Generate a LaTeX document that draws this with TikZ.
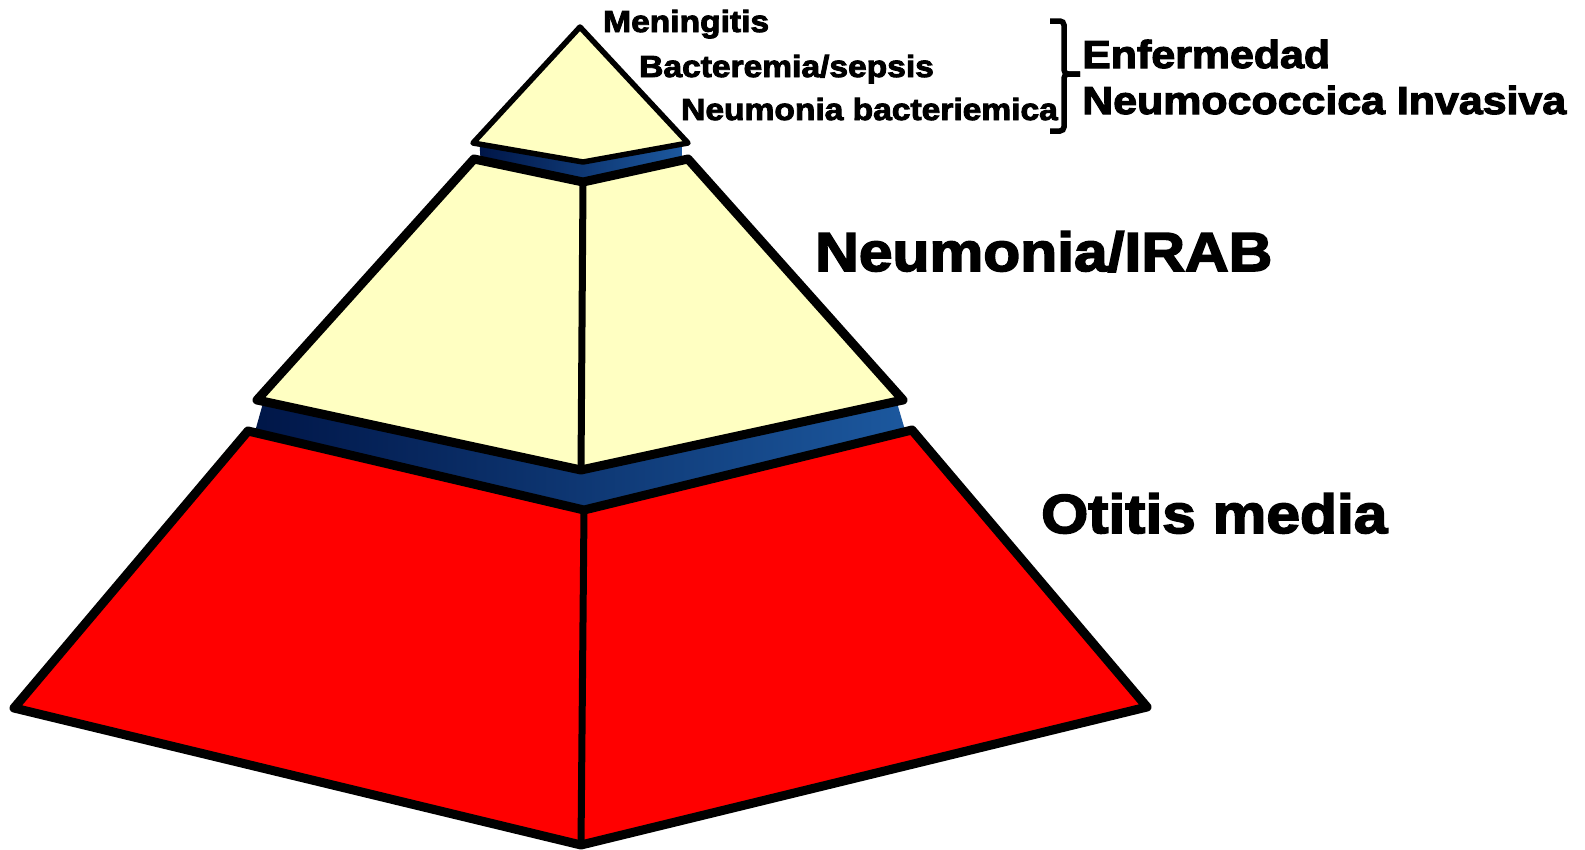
\documentclass[tikz,border=0pt]{standalone}
\usepackage{fontspec}
\usetikzlibrary{calc}
\newfontfamily\heavy{Liberation Sans}[FakeStretch=1.1, BoldFeatures={FakeBold=3}]
\definecolor{cream}{RGB}{255,255,194}
\definecolor{redf}{RGB}{255,0,0}
\definecolor{bandL}{RGB}{0,22,72}
\definecolor{bandR}{RGB}{28,88,158}
\tikzset{
  lbl/.style={inner sep=0pt, anchor=base west, text=black},
  smalltxt/.style={lbl, font=\heavy\bfseries\fontsize{30.5}{36}\selectfont},
  midtxt/.style={lbl, font=\heavy\bfseries\fontsize{39}{44}\selectfont},
  bigtxt/.style={lbl, font=\heavy\bfseries\fontsize{55}{60}\selectfont},
  face/.style={draw=black, line width=9pt, line join=round},
  ridge/.style={draw=black, line width=7pt, line cap=round},
  tipface/.style={draw=black, line width=5.5pt, line join=round, fill=cream},
  brace/.style={draw=black, line width=5.5pt, rounded corners=4pt}
}
\begin{document}
\begin{tikzpicture}[x=1pt,y=-1pt]
\useasboundingbox (0,0) rectangle (1585,849);
% corner points
\coordinate (tA) at (580,27);
\coordinate (tL) at (473,143);
\coordinate (tR) at (688,143);
\coordinate (tB) at (583,162);
\coordinate (mTL) at (474,159);
\coordinate (mTR) at (688,159);
\coordinate (mTM) at (583,182);
\coordinate (mBL) at (257,400);
\coordinate (mBR) at (903,400);
\coordinate (mBM) at (581,470);
\coordinate (rTL) at (248,431);
\coordinate (rTR) at (912,430);
\coordinate (rTM) at (584,510);
\coordinate (rBL) at (14,708);
\coordinate (rBR) at (1147,707);
\coordinate (rBM) at (581,845);
% blue bands (ends pulled in so they fade under the outlines)
\shade[left color=bandL, right color=bandR]
  ($(tL)!0.06!(tB)$)--(tB)--($(tR)!0.06!(tB)$)--($(mTR)!0.06!(mTM)$)--(mTM)--($(mTL)!0.06!(mTM)$)--cycle;
\shade[left color=bandL, right color=bandR]
  ($(mBL)!0.02!(mBM)$)--(mBM)--($(mBR)!0.02!(mBM)$)--($(rTR)!0.02!(rTM)$)--(rTM)--($(rTL)!0.02!(rTM)$)--cycle;
% bottom (red)
\filldraw[face, fill=redf] (rTL)--(rTM)--(rTR)--(rBR)--(rBM)--(rBL)--cycle;
\draw[ridge] (rTM)--(rBM);
% middle (cream)
\filldraw[face, fill=cream] (mTL)--(mTM)--(mTR)--(mBR)--(mBM)--(mBL)--cycle;
\draw[ridge] (mTM)--(mBM);
% top triangle
\filldraw[tipface] (tA)--(tR)--(tB)--(tL)--cycle;
% labels
\node[smalltxt] (men) at (603,32) {Meningitis};
\node[smalltxt] (bac) at (639,77) {Bacteremia/sepsis};
\node[smalltxt] (neb) at (681,120) {Neumonia bacteriemica};
\node[midtxt] (enf) at (1082,68) {Enfermedad};
\node[midtxt] (nci) at (1082,114) {Neumococcica Invasiva};
\node[bigtxt] (nir) at (815,271) {Neumonia/IRAB};
\node[bigtxt] (oti) at (1041,533) {Otitis media};
% brace
\draw[brace] (1050,21)--(1064,21)--(1064,74)--(1080,74);
\draw[brace] (1050,131)--(1064,131)--(1064,74)--(1080,74);
\end{tikzpicture}
\end{document}
